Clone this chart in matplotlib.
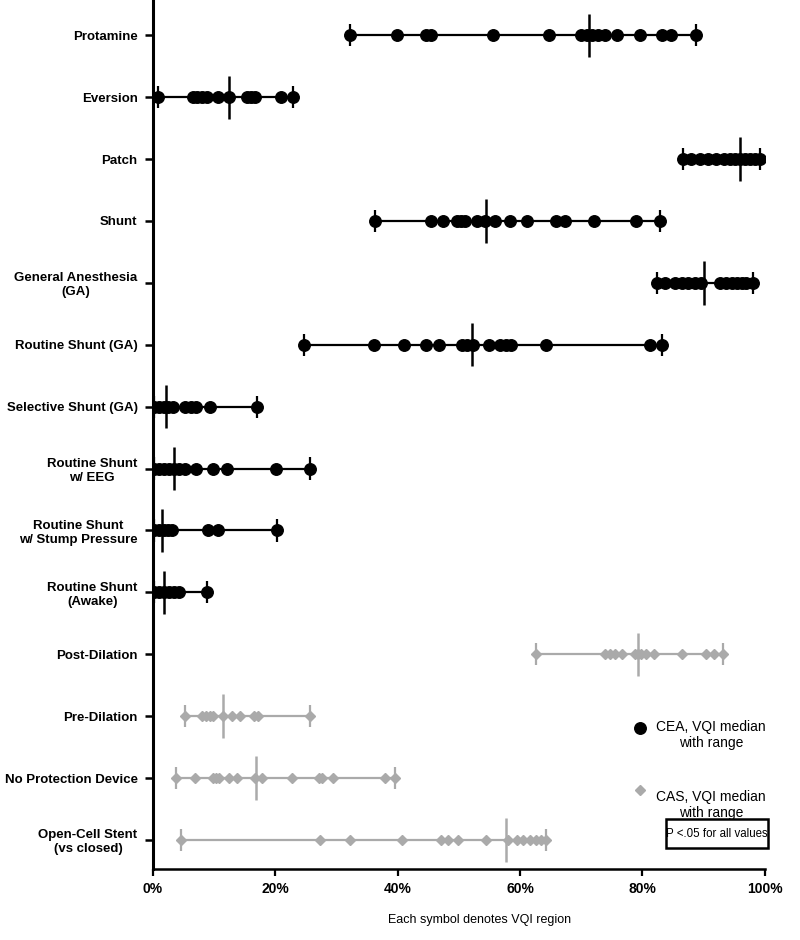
import matplotlib
matplotlib.use('Agg')
import matplotlib.pyplot as plt
from matplotlib.patches import Rectangle

plt.rcParams['font.family'] = ['Liberation Sans', 'DejaVu Sans']

# rows, top to bottom
labels = ['Protamine', 'Eversion', 'Patch', 'Shunt', 'General Anesthesia\n(GA)',
          'Routine Shunt (GA)', 'Selective Shunt (GA)', 'Routine Shunt\nw/ EEG',
          'Routine Shunt\nw/ Stump Pressure', 'Routine Shunt\n(Awake)',
          'Post-Dilation', 'Pre-Dilation', 'No Protection Device',
          'Open-Cell Stent\n(vs closed)']

# CEA (black) - percent of VQI regions
protamine = [32.3, 39.9, 44.7, 45.4, 55.6, 64.7, 70.0, 70.9, 71.7, 72.7, 73.9, 75.9, 79.6, 83.2, 84.7, 88.7]
eversion = [0.9, 6.5, 7.3, 8.1, 8.9, 10.7, 12.4, 15.4, 16.0, 16.7, 21.0, 22.9]
patch = [86.7, 88.0, 89.4, 90.7, 92.1, 93.3, 94.3, 95.1, 95.9, 96.7, 97.5, 98.4, 99.2]
shunt = [36.3, 45.5, 47.4, 49.7, 50.4, 51.0, 52.9, 54.2, 55.9, 58.3, 61.1, 65.9, 67.3, 72.1, 78.9, 82.8]
general_anesthesia = [82.4, 83.7, 85.3, 86.4, 87.5, 88.6, 89.6, 92.6, 93.6, 94.6, 95.4, 96.2, 97.0, 98.0]
routine_shunt_ga = [24.7, 36.1, 41.0, 44.6, 46.8, 50.6, 51.4, 52.3, 54.9, 56.8, 57.7, 58.5, 64.2, 81.3, 83.2]
selective_shunt_ga = [0.2, 1.0, 1.8, 2.5, 3.3, 5.2, 6.2, 7.0, 9.4, 17.0]
routine_shunt_eeg = [0.2, 1.0, 1.8, 2.7, 3.4, 4.3, 5.2, 7.0, 9.9, 12.1, 20.2, 25.7]
routine_shunt_stump = [0.2, 1.0, 1.8, 2.5, 3.2, 9.0, 10.7, 20.3]
routine_shunt_awake = [0.2, 1.0, 1.8, 2.7, 3.4, 4.2, 8.8]

# CAS (grey)
post_dilation = [62.6, 73.9, 74.7, 75.5, 76.6, 78.8, 79.3, 79.8, 80.6, 81.9, 86.4, 90.4, 91.7, 93.1]
pre_dilation = [5.3, 8.0, 8.7, 9.3, 9.9, 11.5, 12.9, 14.2, 16.5, 17.2, 25.7]
no_protection = [3.8, 6.9, 9.8, 10.3, 10.8, 12.5, 13.8, 16.7, 17.9, 22.7, 27.2, 27.7, 29.4, 37.9, 39.5]
open_cell = [4.6, 27.4, 32.3, 40.8, 47.1, 48.2, 49.8, 54.4, 58.0, 59.5, 60.5, 61.6, 62.6, 63.5, 64.2]

series = [protamine, eversion, patch, shunt, general_anesthesia, routine_shunt_ga,
          selective_shunt_ga, routine_shunt_eeg, routine_shunt_stump, routine_shunt_awake,
          post_dilation, pre_dilation, no_protection, open_cell]
medians = [71.3, 12.4, 96.0, 54.4, 90.0, 52.2, 2.1, 3.5, 1.5, 1.8, 79.2, 11.5, 16.8, 57.7]
groups = ['CEA'] * 10 + ['CAS'] * 4

black = '#000000'
grey = '#aaaaaa'

fig = plt.figure(figsize=(8, 9.4), dpi=100)
ax = fig.add_axes([0.191, 0.0755, 0.765, 0.9245])

n = len(labels)
for i, (vals, med, g) in enumerate(zip(series, medians, groups)):
    y = n - 1 - i
    c = black if g == 'CEA' else grey
    lo, hi = min(vals), max(vals)
    ax.plot([lo, hi], [y, y], color=c, lw=1.6, zorder=2)
    if g == 'CEA':
        ax.plot(vals, [y] * len(vals), 'o', color=c, markersize=8.3, zorder=3)
    else:
        ax.plot(vals, [y] * len(vals), 'D', color=c, markersize=5.3, zorder=3)
    ax.vlines([lo, hi], y - 0.18, y + 0.18, color=c, lw=1.6, zorder=4)
    ax.vlines(med, y - 0.35, y + 0.35, color=c, lw=1.8, zorder=5)

ax.set_xlim(0, 100)
ax.set_ylim(-0.47, n - 1 + 0.57)
ax.set_yticks(range(n))
ax.set_yticklabels(labels[::-1])
for t in ax.get_yticklabels():
    t.set_fontsize(9.5)
    t.set_fontweight('bold')
    t.set_multialignment('center')
ax.set_xticks([0, 20, 40, 60, 80, 100])
ax.set_xticklabels(['0%', '20%', '40%', '60%', '80%', '100%'])
for t in ax.get_xticklabels():
    t.set_fontsize(10)
    t.set_fontweight('bold')
ax.set_xlabel('Each symbol denotes VQI region', fontsize=9)
ax.xaxis.set_label_coords(0.534, -0.052)

ax.spines['top'].set_visible(False)
ax.spines['right'].set_visible(False)
ax.spines['left'].set_linewidth(2.2)
ax.spines['bottom'].set_linewidth(1.8)
ax.tick_params(axis='y', length=6, width=1.8, pad=5)
ax.tick_params(axis='x', length=5, width=1.6, pad=4)

# legend
ax.plot([0.796], [0.162], 'o', color=black, markersize=8.3, transform=ax.transAxes, clip_on=False)
ax.text(0.912, 0.172, 'CEA, VQI median\nwith range', transform=ax.transAxes,
        ha='center', va='top', fontsize=10, linespacing=1.2)
ax.plot([0.796], [0.091], 'D', color=grey, markersize=5.3, transform=ax.transAxes, clip_on=False)
ax.text(0.912, 0.091, 'CAS, VQI median\nwith range', transform=ax.transAxes,
        ha='center', va='top', fontsize=10, linespacing=1.2)
ax.add_patch(Rectangle((0.838, 0.024), 0.167, 0.033, transform=ax.transAxes, fill=False,
                       edgecolor='black', linewidth=1.8, clip_on=False))
ax.text(0.9215, 0.0405, 'P <.05 for all values', transform=ax.transAxes, ha='center',
        va='center', fontsize=8.3)

fig.savefig('out.png', dpi=100)
